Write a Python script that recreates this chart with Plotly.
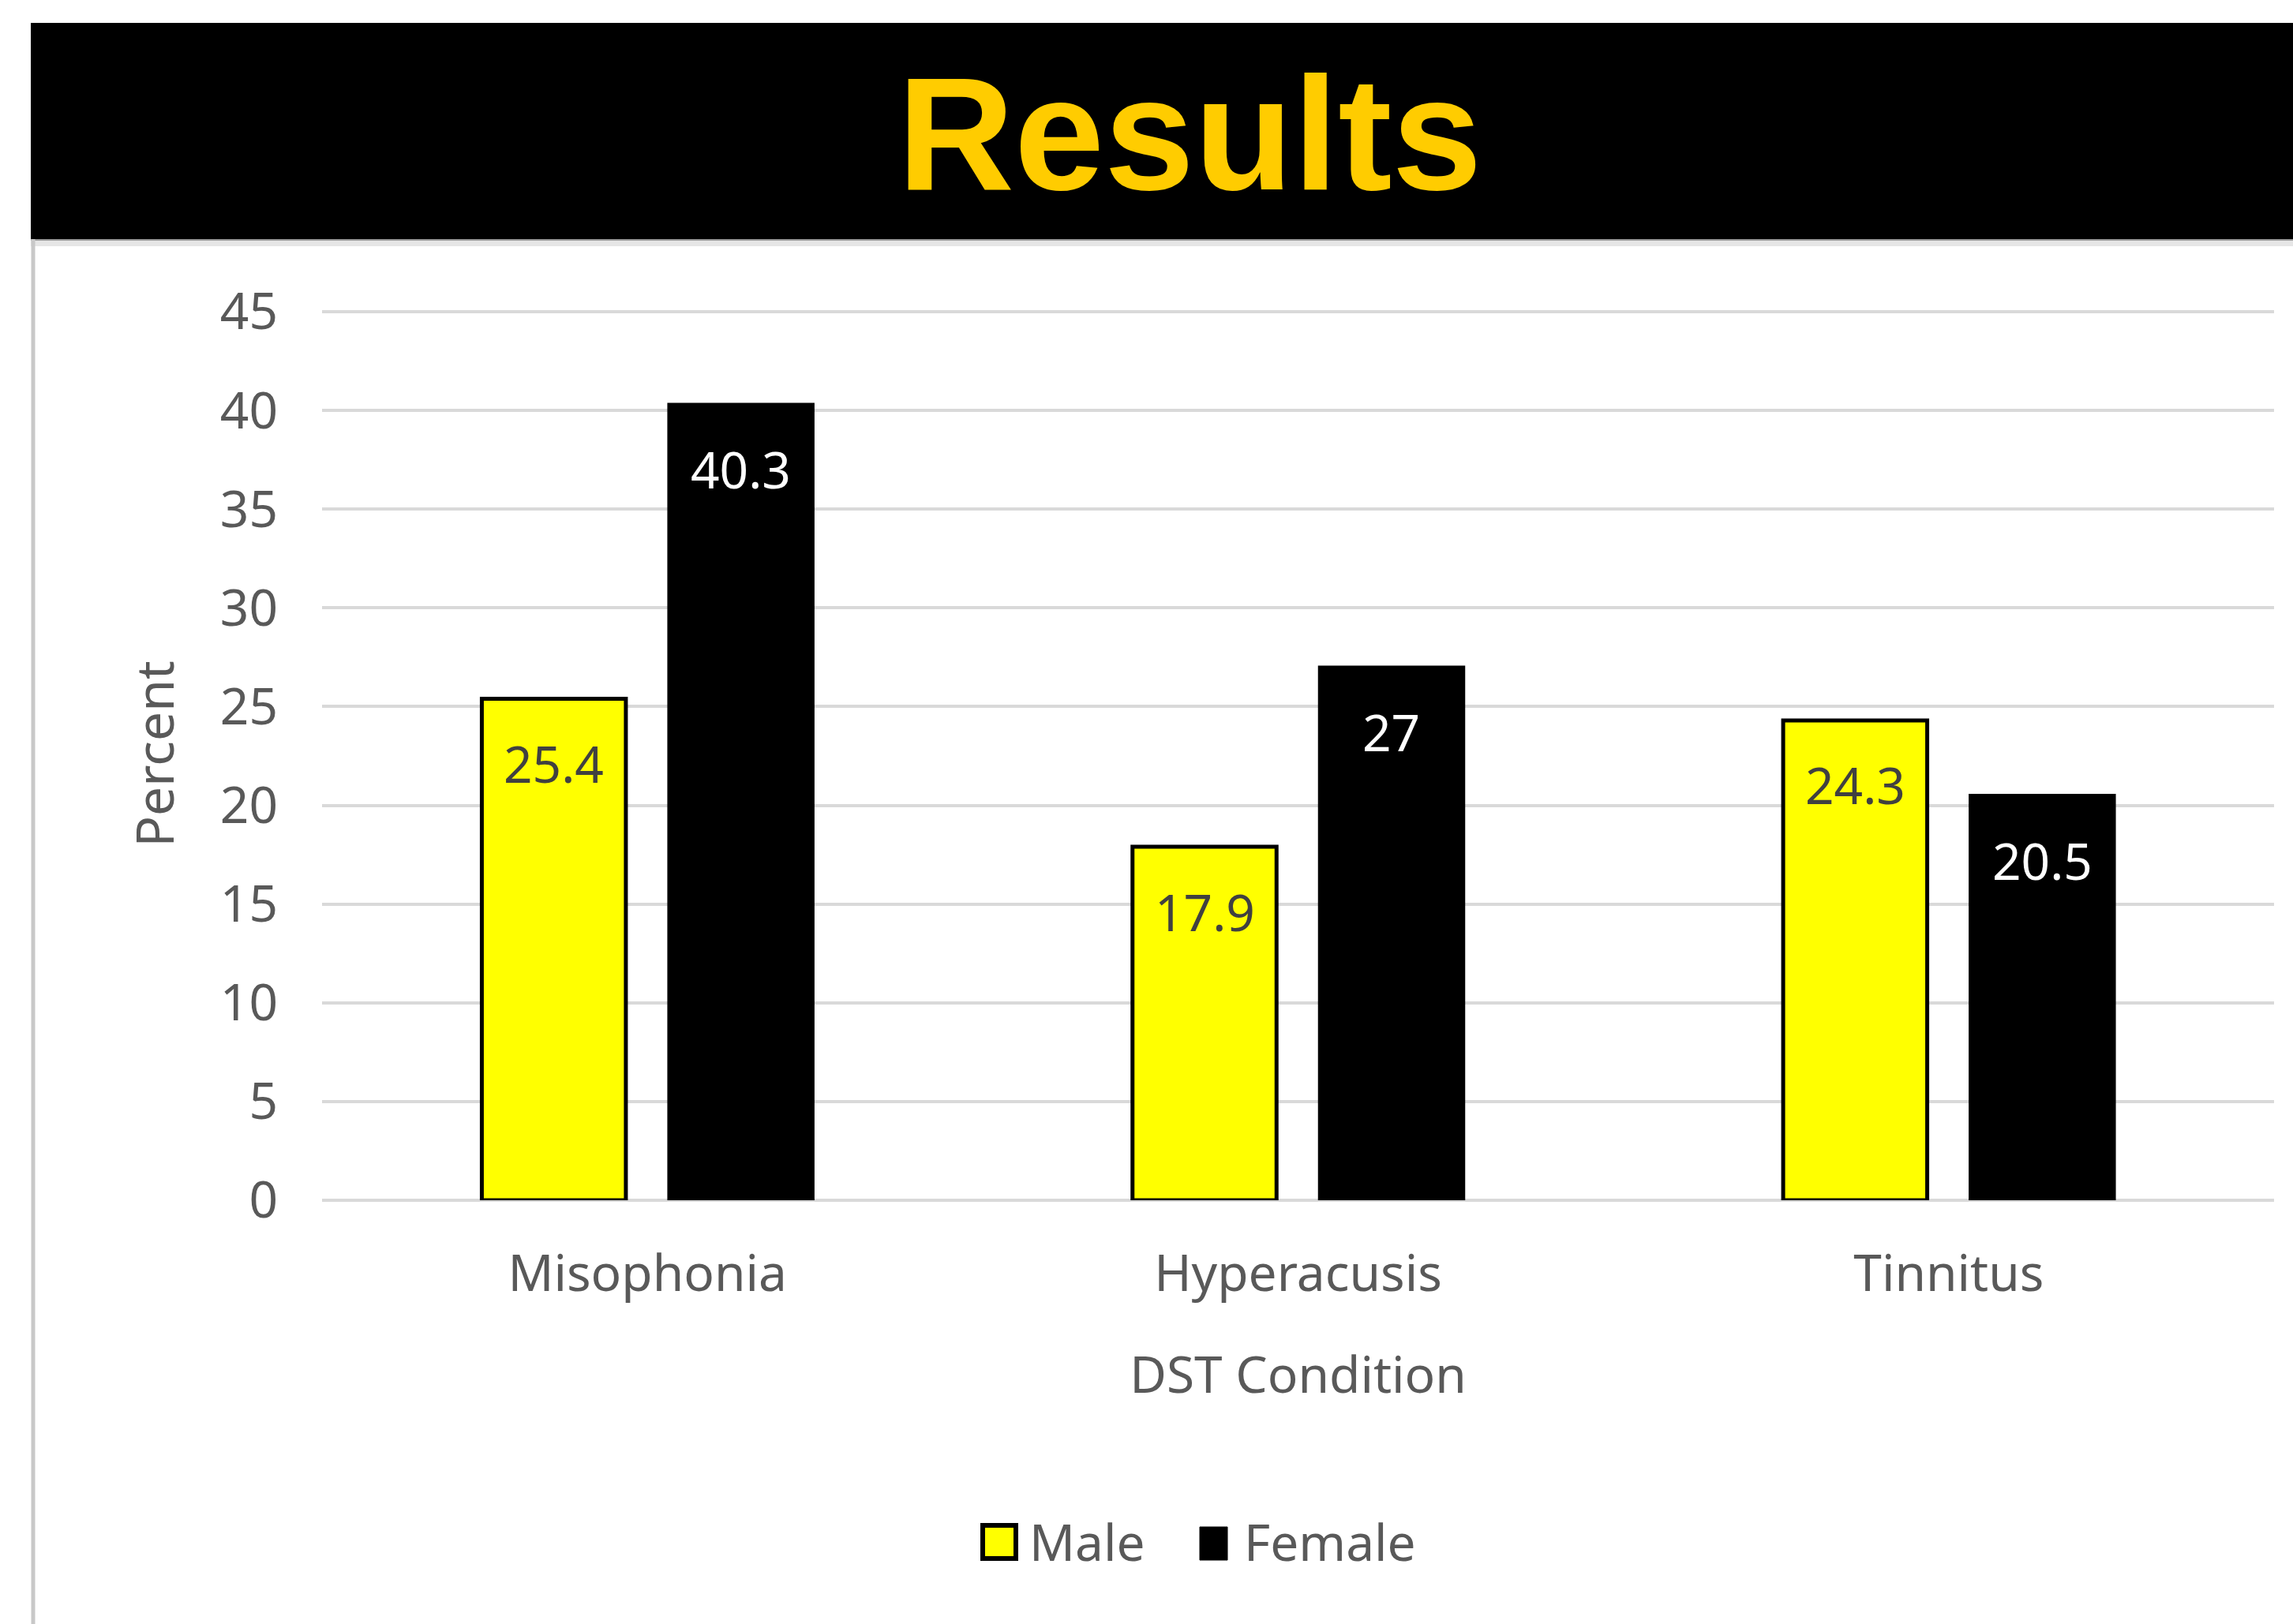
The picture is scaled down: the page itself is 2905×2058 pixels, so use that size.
import plotly.graph_objects as go

# ---- data ----
categories = ["Misophonia", "Hyperacusis", "Tinnitus"]
male = [25.4, 17.9, 24.3]
female = [40.3, 27, 20.5]
male_labels = ["25.4", "17.9", "24.3"]
female_labels = ["40.3", "27", "20.5"]
y_ticks = [0, 5, 10, 15, 20, 25, 30, 35, 40, 45]

W, H = 2905, 2058
L, R, T, B = 408, 24, 390, 537
plot_w = W - L - R
plot_h = H - T - B
Y_MAX = 45.2
BARGAP = 0.425
GROUPGAP = 0.23

FONT = "Noto Sans"
TXT = "#595959"


def px_x(px):
    return (px - L) / plot_w


def px_y(py):
    return (H - B - py) / plot_h


fig = go.Figure()
fig.add_trace(go.Bar(
    name="Male", x=categories, y=male,
    marker=dict(color="#FFFF00", line=dict(color="#000000", width=5)),
    hoverinfo="x+y",
))
fig.add_trace(go.Bar(
    name="Female", x=categories, y=female,
    marker=dict(color="#000000", line=dict(color="#000000", width=4)),
    hoverinfo="x+y",
))

cat_w = plot_w / len(categories)
slot = cat_w * (1 - BARGAP) / 2
shift = slot / 2

annotations = []
for c, v, t in zip(categories, male, male_labels):
    annotations.append(dict(x=c, y=v, xref="x", yref="y", text=t, showarrow=False,
                            xshift=-shift, yshift=-82, yanchor="middle",
                            font=dict(family=FONT, size=64, color="#404040")))
for c, v, t in zip(categories, female, female_labels):
    annotations.append(dict(x=c, y=v, xref="x", yref="y", text=t, showarrow=False,
                            xshift=shift, yshift=-82, yanchor="middle",
                            font=dict(family=FONT, size=64, color="#FFFFFF")))

# title
annotations.append(dict(x=px_x(1507), y=px_y(168), xref="paper", yref="paper",
                        text="<b>Results</b>", showarrow=False,
                        xanchor="center", yanchor="middle",
                        font=dict(family="Liberation Sans", size=205, color="#FFCC00")))

# custom legend text
annotations.append(dict(x=px_x(1302), y=px_y(1953), xref="paper", yref="paper",
                        text="Male", showarrow=False, xanchor="left", yanchor="middle",
                        font=dict(family=FONT, size=64, color=TXT)))
annotations.append(dict(x=px_x(1574), y=px_y(1953), xref="paper", yref="paper",
                        text="Female", showarrow=False, xanchor="left", yanchor="middle",
                        font=dict(family=FONT, size=64, color=TXT)))

shapes = [
    # black header band
    dict(type="rect", xref="paper", yref="paper", x0=px_x(39), x1=px_x(2920),
         y0=px_y(303), y1=px_y(29), fillcolor="#000000", line=dict(width=0), layer="above"),
    # shadow under band
    dict(type="rect", xref="paper", yref="paper", x0=px_x(39), x1=px_x(2920),
         y0=px_y(312), y1=px_y(303), fillcolor="#e6e6e6", line=dict(width=0), layer="below"),
    dict(type="line", xref="paper", yref="paper", x0=px_x(39), x1=px_x(2920),
         y0=px_y(304), y1=px_y(304), line=dict(color="#9a9a9a", width=2)),
    # left frame line
    dict(type="line", xref="paper", yref="paper", x0=px_x(42), x1=px_x(42),
         y0=px_y(303), y1=px_y(2060), line=dict(color="#c8c8c8", width=5)),
    # legend swatches
    dict(type="rect", xref="paper", yref="paper", x0=px_x(1245), x1=px_x(1287),
         y0=px_y(1975), y1=px_y(1933), fillcolor="#FFFF00",
         line=dict(color="#000000", width=6)),
    dict(type="rect", xref="paper", yref="paper", x0=px_x(1520), x1=px_x(1555),
         y0=px_y(1977), y1=px_y(1935), fillcolor="#000000",
         line=dict(color="#000000", width=1)),
]

fig.update_layout(
    width=W, height=H,
    margin=dict(l=L, r=R, t=T, b=B, autoexpand=False),
    paper_bgcolor="#FFFFFF", plot_bgcolor="#FFFFFF",
    barmode="group", bargap=BARGAP, bargroupgap=GROUPGAP,
    showlegend=False,
    font=dict(family=FONT, size=64, color=TXT),
    annotations=annotations,
    shapes=shapes,
    xaxis=dict(
        type="category", showgrid=False, showline=False, ticks="",
        tickfont=dict(family=FONT, size=64, color=TXT),
        ticklabelstandoff=50,
        title=dict(text="DST Condition", font=dict(family=FONT, size=64, color=TXT), standoff=66),
    ),
    yaxis=dict(
        range=[0, Y_MAX], tickvals=y_ticks, ticktext=[str(v) for v in y_ticks],
        showgrid=True, gridcolor="#d9d9d9", gridwidth=3.5,
        zeroline=True, zerolinecolor="#d9d9d9", zerolinewidth=3.5,
        showline=False, ticks="",
        tickfont=dict(family=FONT, size=64, color=TXT),
        ticklabelstandoff=55,
        title=dict(text="Percent", font=dict(family=FONT, size=66, color=TXT), standoff=36),
    ),
)

fig.write_html("out.html")
